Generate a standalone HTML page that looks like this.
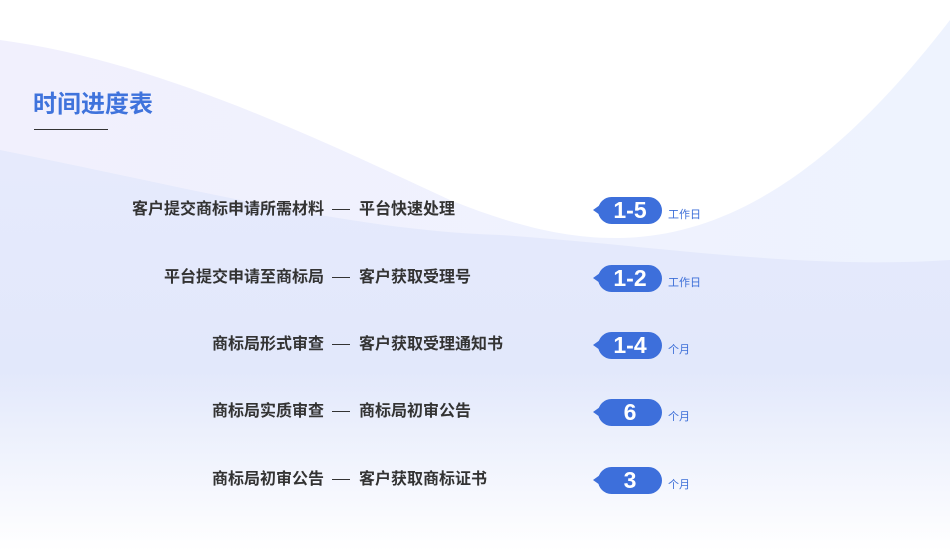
<!DOCTYPE html>
<html><head><meta charset="utf-8"><style>
body{margin:0;width:950px;height:551px;overflow:hidden;background:#fff;font-family:"Liberation Sans","Noto Sans CJK SC",sans-serif;position:relative}
svg.bg{position:absolute;left:0;top:0}
.t{position:absolute;left:33px;top:84px;font-size:24px;font-weight:bold;color:#3f73dc}
.ul{position:absolute;left:34px;top:129px;width:74px;height:1px;background:#333}
.l{position:absolute;width:324px;left:0;text-align:right;font-size:16px;font-weight:bold;color:#333;line-height:20px}
.d{position:absolute;left:332px;width:18px;height:1px;background:#333}
.r{position:absolute;left:359px;font-size:16px;font-weight:bold;color:#333;line-height:20px}
.p{position:absolute;left:598px;width:64px;height:27px;border-radius:14px;background:#3d6fdb;color:#fff;font-weight:bold;font-size:23px;line-height:27px;text-align:center}
.p:before{content:"";position:absolute;left-5px;left:-5px;top:8px;border-top:5px solid transparent;border-bottom:5px solid transparent;border-right:7px solid #3d6fdb}
.u{position:absolute;left:668px;font-size:11px;color:#3d6fd8;line-height:14px}
</style></head><body>
<svg class="bg" width="950" height="551">
<defs>
<linearGradient id="g1" x1="0" y1="0" x2="1" y2="0"><stop offset="0" stop-color="#f1f0fd"/><stop offset="1" stop-color="#eef3fe"/></linearGradient>
<linearGradient id="g2" x1="0" y1="0" x2="0" y2="1"><stop offset="0" stop-color="#e6eafc"/><stop offset="0.55" stop-color="#e2e8fb"/><stop offset="1" stop-color="#ffffff"/></linearGradient>
</defs>
<path d="M0 40 C150 60 300 130 450 200 C600 260 750 280 950 20 L950 551 L0 551 Z" fill="url(#g1)"/>
<path d="M0 150 C200 190 350 230 500 235 C650 245 800 270 950 260 L950 551 L0 551 Z" fill="url(#g2)"/>
</svg>
<div class="t">时间进度表</div><div class="ul"></div>

<div class="l" style="top:200px">客户提交商标申请所需材料</div><div class="d" style="top:209px"></div><div class="r" style="top:200px">平台快速处理</div>
<div class="p" style="top:197px">1-5</div><div class="u" style="top:208px">工作日</div>

<div class="l" style="top:268px">平台提交申请至商标局</div><div class="d" style="top:277px"></div><div class="r" style="top:268px">客户获取受理号</div>
<div class="p" style="top:265px">1-2</div><div class="u" style="top:276px">工作日</div>

<div class="l" style="top:335px">商标局形式审查</div><div class="d" style="top:344px"></div><div class="r" style="top:335px">客户获取受理通知书</div>
<div class="p" style="top:332px">1-4</div><div class="u" style="top:343px">个月</div>

<div class="l" style="top:402px">商标局实质审查</div><div class="d" style="top:411px"></div><div class="r" style="top:402px">商标局初审公告</div>
<div class="p" style="top:399px">6</div><div class="u" style="top:410px">个月</div>

<div class="l" style="top:470px">商标局初审公告</div><div class="d" style="top:479px"></div><div class="r" style="top:470px">客户获取商标证书</div>
<div class="p" style="top:467px">3</div><div class="u" style="top:478px">个月</div>
</body></html>
